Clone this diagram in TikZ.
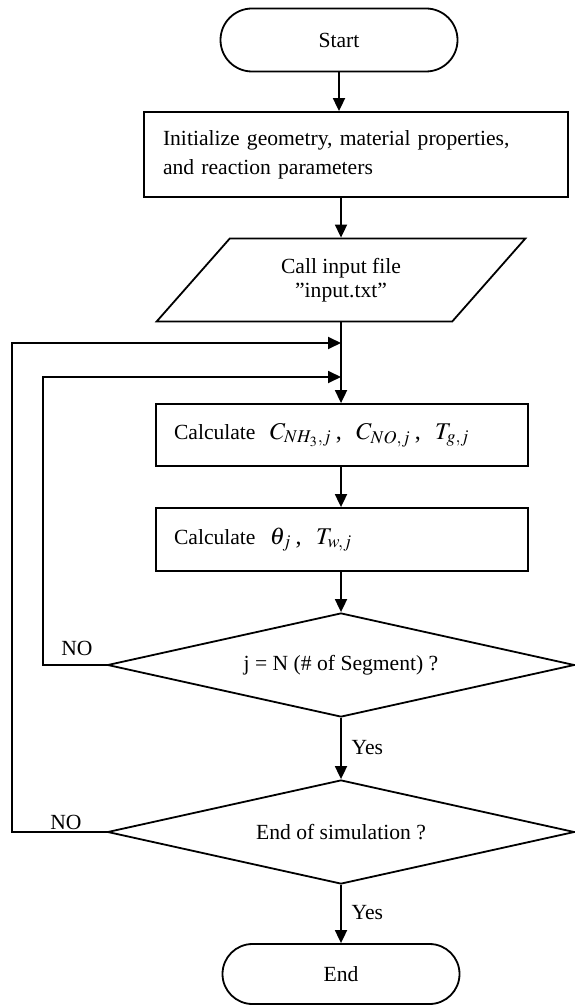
\documentclass[tikz,border=0pt]{standalone}
\usepackage{mathptmx}
\usepackage[no-math]{fontspec}
\setmainfont{Liberation Serif}
\usetikzlibrary{shapes.geometric,shapes.misc,arrows.meta}

\begin{document}
\begin{tikzpicture}[x=0.5pt,y=-0.5pt,line width=0.9pt,
	font=\fontsize{10.8}{13}\selectfont,
	term/.style={draw,rounded rectangle,minimum width=118.5pt,minimum height=31.5pt,inner sep=0pt},
	box/.style={draw,rectangle,inner sep=0pt,align=left},
	io/.style={draw,trapezium,trapezium left angle=48,trapezium right angle=132,trapezium stretches=true,
		minimum width=185.5pt,minimum height=41.5pt,inner sep=0pt,align=center},
	decide/.style={draw,diamond,shape aspect=4.49,minimum width=233.5pt,minimum height=52pt,inner sep=0pt},
	flow/.style={-{Triangle[length=6.5pt,width=6pt]}}]
	\useasboundingbox (0,0) rectangle (574,1005);
	% main column
	\node[term] (start) at (339,40) {Start};
	\node[box,minimum width=212pt,minimum height=42.5pt,text width=193pt,
		font=\fontsize{10.8}{14.5}\selectfont] (init) at (356,154.5)
		{Initialize geometry, material properties,\\and reaction parameters};
	\node[io,font=\fontsize{10.8}{12}\selectfont] (input) at (341,280) {Call input file\\"input.txt''};
	\node[box,minimum width=186pt,minimum height=31pt,text width=168pt] (calc1) at (342,435)
		{Calculate\ \ {\large $C_{NH_3,j}$\,,\ \ $C_{NO,j}$\,,\ \ $T_{g,j}$}};
	\node[box,minimum width=186pt,minimum height=31.5pt,text width=168pt] (calc2) at (342,539.5)
		{Calculate\ \ {\large $\theta_j$\,,\ \ $T_{w,j}$}};
	\node[decide] (seg) at (341,665) {j = N (\# of Segment) ?};
	\node[decide] (sim) at (341,832) {End of simulation ?};
	\node[term,minimum height=30pt] (stop) at (341,974) {End};
	% join points of the loops
	\coordinate (j2) at (341,343);
	\coordinate (j1) at (341,377);
	\coordinate (outer) at (12,0);
	\coordinate (inner) at (43,0);
	% arrows
	\draw[flow] (start.south) -- (start.south |- init.north);
	\draw[flow] (input |- init.south) -- (input.north);
	\draw[flow] (input.south) -- (input.south |- calc1.north);
	\draw[flow] (calc1.south -| seg) -- (calc2.north -| seg);
	\draw[flow] (calc2.south -| seg) -- (seg.north);
	\draw[flow] (seg.south) -- (sim.north);
	\draw[flow] (sim.south) -- (stop.north);
	\draw[flow] (seg.west) -- (seg.west -| inner) |- (j1);
	\draw[flow] (sim.west) -- (sim.west -| outer) |- (j2);
	% labels
	\node (no1) at (77,648) {NO};
	\node (no2) at (66,822) {NO};
	\node[anchor=west] (yes1) at (344,748) {Yes};
	\node[anchor=west] (yes2) at (344,913) {Yes};
\end{tikzpicture}
\end{document}
